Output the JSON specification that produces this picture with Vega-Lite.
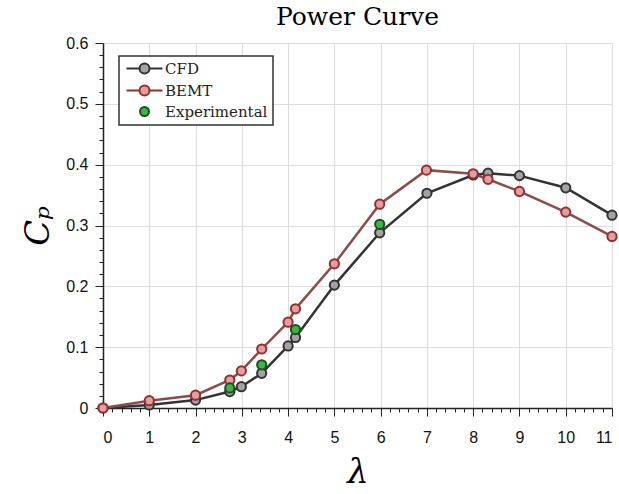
{
  "$schema": "https://vega.github.io/schema/vega-lite/v6.json",
  "width": 509,
  "height": 365,
  "autosize": {"type": "none"},
  "padding": {"left": 103, "top": 43, "right": 7, "bottom": 86},
  "background": "white",
  "title": {"text": "Power Curve", "font": "DejaVu Serif", "fontSize": 25, "fontWeight": "normal", "color": "#000", "anchor": "middle", "offset": 5},
  "data": {"values": [
    {"series": "CFD", "lambda": 0, "cp": 0},
    {"series": "CFD", "lambda": 1, "cp": 0.005},
    {"series": "CFD", "lambda": 2, "cp": 0.013},
    {"series": "CFD", "lambda": 2.74, "cp": 0.027},
    {"series": "CFD", "lambda": 2.99, "cp": 0.035},
    {"series": "CFD", "lambda": 3.43, "cp": 0.057},
    {"series": "CFD", "lambda": 4.0, "cp": 0.102},
    {"series": "CFD", "lambda": 4.16, "cp": 0.116},
    {"series": "CFD", "lambda": 5.0, "cp": 0.202},
    {"series": "CFD", "lambda": 5.98, "cp": 0.288},
    {"series": "CFD", "lambda": 7.0, "cp": 0.353},
    {"series": "CFD", "lambda": 8.0, "cp": 0.383},
    {"series": "CFD", "lambda": 8.32, "cp": 0.386},
    {"series": "CFD", "lambda": 9.0, "cp": 0.382},
    {"series": "CFD", "lambda": 10.0, "cp": 0.362},
    {"series": "CFD", "lambda": 11.0, "cp": 0.317},
    {"series": "BEMT", "lambda": 0, "cp": 0},
    {"series": "BEMT", "lambda": 1, "cp": 0.012},
    {"series": "BEMT", "lambda": 2, "cp": 0.021},
    {"series": "BEMT", "lambda": 2.74, "cp": 0.046},
    {"series": "BEMT", "lambda": 2.99, "cp": 0.061},
    {"series": "BEMT", "lambda": 3.43, "cp": 0.097},
    {"series": "BEMT", "lambda": 4.0, "cp": 0.141},
    {"series": "BEMT", "lambda": 4.16, "cp": 0.163},
    {"series": "BEMT", "lambda": 5.0, "cp": 0.237},
    {"series": "BEMT", "lambda": 5.98, "cp": 0.335},
    {"series": "BEMT", "lambda": 6.99, "cp": 0.391},
    {"series": "BEMT", "lambda": 8.0, "cp": 0.385},
    {"series": "BEMT", "lambda": 8.32, "cp": 0.376},
    {"series": "BEMT", "lambda": 9.0, "cp": 0.356},
    {"series": "BEMT", "lambda": 10.0, "cp": 0.322},
    {"series": "BEMT", "lambda": 11.0, "cp": 0.282},
    {"series": "Experimental", "lambda": 2.74, "cp": 0.033},
    {"series": "Experimental", "lambda": 3.43, "cp": 0.071},
    {"series": "Experimental", "lambda": 4.16, "cp": 0.129},
    {"series": "Experimental", "lambda": 5.98, "cp": 0.302}
  ]},
  "layer": [
    {
      "transform": [{"filter": "datum.series === 'CFD'"}],
      "mark": {"type": "line", "color": "#333333", "strokeWidth": 2.5},
      "encoding": {
        "x": {"field": "lambda", "type": "quantitative", "scale": {"domain": [0, 11], "nice": false},
          "axis": {"orient": "bottom", "values": [0,1,2,3,4,5,6,7,8,9,10,11], "format": "d", "tickSize": 8, "tickColor": "#222", "domainColor": "#222", "domainWidth": 1.5, "labelFont": "Liberation Sans", "labelFontSize": 16, "labelColor": "#111", "labelPadding": 13, "grid": true, "gridColor": "#dddddd", "title": "λ", "titleFont": "DejaVu Serif", "titleFontStyle": "italic", "titleFontWeight": "normal", "titleFontSize": 34, "titleColor": "#000", "titlePadding": 10}},
        "y": {"field": "cp", "type": "quantitative", "scale": {"domain": [0, 0.6], "nice": false},
          "axis": {"orient": "left", "values": [0, 0.1, 0.2, 0.3, 0.4, 0.5, 0.6], "format": "~g", "tickSize": 8, "tickColor": "#222", "domainColor": "#222", "domainWidth": 1.5, "labelFont": "Liberation Sans", "labelFontSize": 16, "labelColor": "#111", "labelPadding": 7, "grid": true, "gridColor": "#dddddd", "title": "Cₚ", "titleFont": "DejaVu Serif", "titleFontStyle": "italic", "titleFontWeight": "normal", "titleFontSize": 34, "titleColor": "#000", "titlePadding": 10}}
      }
    },
    {
      "transform": [{"filter": "datum.series === 'BEMT'"}],
      "mark": {"type": "line", "color": "#8b4c4c", "strokeWidth": 2.5},
      "encoding": {
        "x": {"field": "lambda", "type": "quantitative", "axis": null},
        "y": {"field": "cp", "type": "quantitative", "axis": null}
      }
    },
    {
      "mark": {"type": "point", "filled": false, "shape": "circle", "size": 85, "strokeWidth": 2, "opacity": 1},
      "encoding": {
        "x": {"field": "lambda", "type": "quantitative", "axis": null},
        "y": {"field": "cp", "type": "quantitative", "axis": null},
        "fill": {"field": "series", "type": "nominal", "sort": null,
          "scale": {"domain": ["CFD", "BEMT", "Experimental"], "range": ["#a3a3a3", "#d9a3a3", "#3cb44a"]},
          "legend": {"title": null, "encoding": {"symbols": {"shape": {"value": {"signal": "datum.value === 'Experimental' ? 'M3.5,0A0.9,0.9,0,1,1,1.7,0A0.9,0.9,0,1,1,3.5,0Z' : 'M-1,0H1.6M3.6,0H6.2M3.6,0A1,1,0,1,1,1.6,0A1,1,0,1,1,3.6,0Z'"}}}}}},
        "stroke": {"field": "series", "type": "nominal", "sort": null,
          "scale": {"domain": ["CFD", "BEMT", "Experimental"], "range": ["#333333", "#9e2a2a", "#1f4f1f"]},
          "legend": {"title": null, "encoding": {"symbols": {"shape": {"value": {"signal": "datum.value === 'Experimental' ? 'M3.5,0A0.9,0.9,0,1,1,1.7,0A0.9,0.9,0,1,1,3.5,0Z' : 'M-1,0H1.6M3.6,0H6.2M3.6,0A1,1,0,1,1,1.6,0A1,1,0,1,1,3.6,0Z'"}}}}}}
      }
    },
    {
      "mark": {"type": "point", "opacity": 0},
      "encoding": {
        "x": {"field": "lambda", "type": "quantitative",
          "axis": {"orient": "bottom", "values": [0.2,0.4,0.6,0.8,1.2,1.4,1.6,1.8,2.2,2.4,2.6,2.8,3.2,3.4,3.6,3.8,4.2,4.4,4.6,4.8,5.2,5.4,5.6,5.8,6.2,6.4,6.6,6.8,7.2,7.4,7.6,7.8,8.2,8.4,8.6,8.8,9.2,9.4,9.6,9.8,10.2,10.4,10.6,10.8], "labels": false, "domain": false, "grid": false, "tickSize": 4, "tickColor": "#222", "title": null}},
        "y": {"field": "cp", "type": "quantitative",
          "axis": {"orient": "left", "values": [0.02,0.04,0.06,0.08,0.12,0.14,0.16,0.18,0.22,0.24,0.26,0.28,0.32,0.34,0.36,0.38,0.42,0.44,0.46,0.48,0.52,0.54,0.56,0.58], "labels": false, "domain": false, "grid": false, "tickSize": 4, "tickColor": "#222", "title": null}}
      }
    }
  ],
  "resolve": {"axis": {"x": "independent", "y": "independent"}},
  "config": {
    "view": {"stroke": null},
    "legend": {
      "orient": "none", "legendX": 16, "legendY": 13,
      "strokeColor": "#333", "strokeWidth": 1.5, "fillColor": "white", "padding": 5, "cornerRadius": 0,
      "labelFont": "DejaVu Serif", "labelFontSize": 15, "labelColor": "#222",
      "symbolSize": 100, "symbolStrokeWidth": 2, "labelOffset": 26, "rowPadding": 3
    }
  }
}
